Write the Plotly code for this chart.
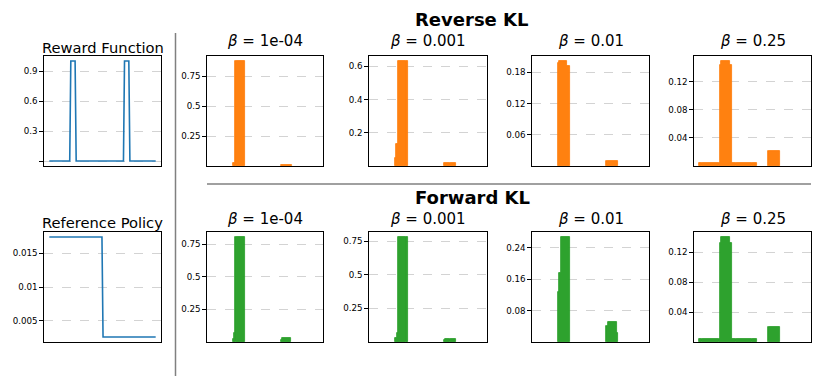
import plotly.graph_objects as go

W, H = 823, 388

# ---------------- data ----------------
states = list(range(100))

reward = [
    0, 0, 0, 0, 0, 0, 0, 0, 0, 0,
    0, 0, 0, 0, 0, 0, 0, 0, 0, 0,
    1, 1, 1, 1, 1, 0, 0, 0, 0, 0,
    0, 0, 0, 0, 0, 0, 0, 0, 0, 0,
    0, 0, 0, 0, 0, 0, 0, 0, 0, 0,
    0, 0, 0, 0, 0, 0, 0, 0, 0, 0,
    0, 0, 0, 0, 0, 0, 0, 0, 0, 0,
    1, 1, 1, 1, 1, 0, 0, 0, 0, 0,
    0, 0, 0, 0, 0, 0, 0, 0, 0, 0,
    0, 0, 0, 0, 0, 0, 0, 0, 0, 0,
]

ref_policy = [
    0.0174, 0.0174, 0.0174, 0.0174, 0.0174, 0.0174, 0.0174, 0.0174, 0.0174, 0.0174,
    0.0174, 0.0174, 0.0174, 0.0174, 0.0174, 0.0174, 0.0174, 0.0174, 0.0174, 0.0174,
    0.0174, 0.0174, 0.0174, 0.0174, 0.0174, 0.0174, 0.0174, 0.0174, 0.0174, 0.0174,
    0.0174, 0.0174, 0.0174, 0.0174, 0.0174, 0.0174, 0.0174, 0.0174, 0.0174, 0.0174,
    0.0174, 0.0174, 0.0174, 0.0174, 0.0174, 0.0174, 0.0174, 0.0174, 0.0174, 0.0174,
    0.0026, 0.0026, 0.0026, 0.0026, 0.0026, 0.0026, 0.0026, 0.0026, 0.0026, 0.0026,
    0.0026, 0.0026, 0.0026, 0.0026, 0.0026, 0.0026, 0.0026, 0.0026, 0.0026, 0.0026,
    0.0026, 0.0026, 0.0026, 0.0026, 0.0026, 0.0026, 0.0026, 0.0026, 0.0026, 0.0026,
    0.0026, 0.0026, 0.0026, 0.0026, 0.0026, 0.0026, 0.0026, 0.0026, 0.0026, 0.0026,
    0.0026, 0.0026, 0.0026, 0.0026, 0.0026, 0.0026, 0.0026, 0.0026, 0.0026, 0.0026,
]

betas = ["1e-04", "0.001", "0.01", "0.25"]

rkl_1e4 = [
    0, 0, 0, 0, 0, 0, 0, 0, 0, 0,
    0, 0, 0, 0, 0, 0, 0, 0, 0, 0,
    0.025, 0.025, 0.874, 0.874, 0.874, 0.874, 0.874, 0.874, 0.874, 0.874,
    0.874, 0, 0, 0, 0, 0, 0, 0, 0, 0,
    0, 0, 0, 0, 0, 0, 0, 0, 0, 0,
    0, 0, 0, 0, 0, 0, 0, 0, 0, 0,
    0, 0, 0, 0, 0, 0.012, 0.012, 0.012, 0.012, 0.012,
    0.012, 0.012, 0.012, 0.012, 0.012, 0.012, 0, 0, 0, 0,
    0, 0, 0, 0, 0, 0, 0, 0, 0, 0,
    0, 0, 0, 0, 0, 0, 0, 0, 0, 0,
]

rkl_001 = [
    0, 0, 0, 0, 0, 0, 0, 0, 0, 0,
    0, 0, 0, 0, 0, 0, 0, 0, 0, 0.05,
    0.13, 0.13, 0.63, 0.63, 0.63, 0.63, 0.63, 0.63, 0.63, 0.63,
    0.63, 0, 0, 0, 0, 0, 0, 0, 0, 0,
    0, 0, 0, 0, 0, 0, 0, 0, 0, 0,
    0, 0, 0, 0, 0, 0, 0, 0, 0, 0,
    0, 0, 0, 0, 0, 0.016, 0.016, 0.016, 0.016, 0.016,
    0.016, 0.016, 0.016, 0.016, 0.016, 0.016, 0, 0, 0, 0,
    0, 0, 0, 0, 0, 0, 0, 0, 0, 0,
    0, 0, 0, 0, 0, 0, 0, 0, 0, 0,
]

rkl_01 = [
    0, 0, 0, 0, 0, 0, 0, 0, 0, 0,
    0, 0, 0, 0, 0, 0, 0, 0, 0, 0.197,
    0.201, 0.201, 0.201, 0.201, 0.201, 0.201, 0.201, 0.201, 0.191, 0.191,
    0.191, 0, 0, 0, 0, 0, 0, 0, 0, 0,
    0, 0, 0, 0, 0, 0, 0, 0, 0, 0,
    0, 0, 0, 0, 0, 0, 0, 0, 0, 0,
    0, 0, 0, 0, 0, 0.0097, 0.0097, 0.0097, 0.0097, 0.0097,
    0.0097, 0.0097, 0.0097, 0.0097, 0.0097, 0.0097, 0, 0, 0, 0,
    0, 0, 0, 0, 0, 0, 0, 0, 0, 0,
    0, 0, 0, 0, 0, 0, 0, 0, 0, 0,
]

rkl_25 = [
    0.004, 0.004, 0.004, 0.004, 0.004, 0.004, 0.004, 0.004, 0.004, 0.004,
    0.004, 0.004, 0.004, 0.004, 0.004, 0.004, 0.004, 0.004, 0.004, 0.143,
    0.149, 0.149, 0.149, 0.149, 0.149, 0.149, 0.149, 0.149, 0.149, 0.143,
    0.143, 0.004, 0.004, 0.004, 0.004, 0.004, 0.004, 0.004, 0.004, 0.004,
    0.004, 0.004, 0.004, 0.004, 0.004, 0.004, 0.004, 0.004, 0.004, 0.004,
    0.004, 0.004, 0.004, 0.004, 0, 0, 0, 0, 0, 0,
    0, 0, 0, 0, 0, 0.021, 0.022, 0.022, 0.022, 0.022,
    0.022, 0.022, 0.022, 0.022, 0.022, 0.021, 0, 0, 0, 0,
    0, 0, 0, 0, 0, 0, 0, 0, 0, 0,
    0, 0, 0, 0, 0, 0, 0, 0, 0, 0,
]

fkl_1e4 = [
    0, 0, 0, 0, 0, 0, 0, 0, 0, 0,
    0, 0, 0, 0, 0, 0, 0, 0, 0, 0,
    0.02, 0.067, 0.804, 0.804, 0.804, 0.804, 0.804, 0.804, 0.804, 0.804,
    0.804, 0, 0, 0, 0, 0, 0, 0, 0, 0,
    0, 0, 0, 0, 0, 0, 0, 0, 0, 0,
    0, 0, 0, 0, 0, 0, 0, 0, 0, 0,
    0, 0, 0, 0, 0, 0.015, 0.033, 0.033, 0.033, 0.033,
    0.033, 0.033, 0.033, 0.033, 0.033, 0, 0, 0, 0, 0,
    0, 0, 0, 0, 0, 0, 0, 0, 0, 0,
    0, 0, 0, 0, 0, 0, 0, 0, 0, 0,
]

fkl_001 = [
    0, 0, 0, 0, 0, 0, 0, 0, 0, 0,
    0, 0, 0, 0, 0, 0, 0, 0, 0, 0.027,
    0.027, 0.069, 0.778, 0.778, 0.778, 0.778, 0.778, 0.778, 0.778, 0.778,
    0.778, 0, 0, 0, 0, 0, 0, 0, 0, 0,
    0, 0, 0, 0, 0, 0, 0, 0, 0, 0,
    0, 0, 0, 0, 0, 0, 0, 0, 0, 0,
    0, 0, 0, 0, 0, 0.015, 0.026, 0.026, 0.026, 0.026,
    0.026, 0.026, 0.026, 0.026, 0.026, 0.026, 0, 0, 0, 0,
    0, 0, 0, 0, 0, 0, 0, 0, 0, 0,
    0, 0, 0, 0, 0, 0, 0, 0, 0, 0,
]

fkl_01 = [
    0, 0, 0, 0, 0, 0, 0, 0, 0, 0,
    0, 0, 0, 0, 0, 0, 0, 0, 0, 0.127,
    0.175, 0.175, 0.267, 0.267, 0.267, 0.267, 0.267, 0.267, 0.267, 0.267,
    0.267, 0, 0, 0, 0, 0, 0, 0, 0, 0,
    0, 0, 0, 0, 0, 0, 0, 0, 0, 0,
    0, 0, 0, 0, 0, 0, 0, 0, 0, 0,
    0, 0, 0, 0, 0, 0.042, 0.05, 0.05, 0.05, 0.05,
    0.05, 0.05, 0.05, 0.05, 0.05, 0.024, 0, 0, 0, 0,
    0, 0, 0, 0, 0, 0, 0, 0, 0, 0,
    0, 0, 0, 0, 0, 0, 0, 0, 0, 0,
]

fkl_25 = [
    0.004, 0.004, 0.004, 0.004, 0.004, 0.004, 0.004, 0.004, 0.004, 0.004,
    0.004, 0.004, 0.004, 0.004, 0.004, 0.004, 0.004, 0.004, 0.004, 0.132,
    0.14, 0.14, 0.14, 0.14, 0.14, 0.14, 0.14, 0.14, 0.14, 0.132,
    0.132, 0.004, 0.004, 0.004, 0.004, 0.004, 0.004, 0.004, 0.004, 0.004,
    0.004, 0.004, 0.004, 0.004, 0.004, 0.004, 0.004, 0.004, 0.004, 0.004,
    0.004, 0.004, 0.004, 0.004, 0, 0, 0, 0, 0, 0,
    0, 0, 0, 0, 0, 0.02, 0.02, 0.02, 0.02, 0.02,
    0.02, 0.02, 0.02, 0.02, 0.02, 0.02, 0, 0, 0, 0,
    0, 0, 0, 0, 0, 0, 0, 0, 0, 0,
    0, 0, 0, 0, 0, 0, 0, 0, 0, 0,
]

rkl_series = [rkl_1e4, rkl_001, rkl_01, rkl_25]
fkl_series = [fkl_1e4, fkl_001, fkl_01, fkl_25]

reward_ticks = [0, 0.3, 0.6, 0.9]
reward_ticktext = ["", "0.3", "0.6", "0.9"]
ref_ticks = [0.005, 0.01, 0.015]
ref_ticktext = ["0.005", "0.01", "0.015"]
rkl_ticks = [[0.25, 0.5, 0.75], [0.2, 0.4, 0.6], [0.06, 0.12, 0.18], [0.04, 0.08, 0.12]]
fkl_ticks = [[0.25, 0.5, 0.75], [0.25, 0.5, 0.75], [0.08, 0.16, 0.24], [0.04, 0.08, 0.12]]

# ---------------- layout helpers ----------------
FONT = "DejaVu Sans"
BLUE = "#1f77b4"
ORANGE = "#ff7f0e"
GREEN = "#2ca02c"


def xdom(x0, x1):
    return [x0 / W, x1 / W]


def ydom(top, bottom):
    return [1 - bottom / H, 1 - top / H]


def xaxis_style(domain, rng):
    return dict(domain=domain, range=rng, showline=True, mirror=True,
                linecolor="black", linewidth=1.3, showticklabels=False,
                ticks="", showgrid=False, zeroline=False, fixedrange=True)


def yaxis_style(domain, rng, tickvals, ticktext):
    return dict(domain=domain, range=rng, showline=True, mirror=True,
                linecolor="black", linewidth=1.3, ticks="outside", ticklen=3.5,
                tickwidth=0.8, tickcolor="black", tickvals=tickvals,
                ticktext=ticktext, tickfont=dict(family=FONT, size=8.7, color="black"),
                showgrid=True, gridcolor="#d3d3d3", griddash="dash", gridwidth=0.7,
                zeroline=False, fixedrange=True)


fig = go.Figure()
layout = {}

# panel boxes in pixels (left, right, top, bottom)
left_x = (44, 161)
col_x = [(207, 323), (369, 487), (532, 649), (694, 811)]
row_top = (56, 166)
row_bot = (232, 342)

line_rng = [-0.05 * 99, 99 * 1.05]
bar_rng = [-5.5, 104.5]

ax = 0


def add_axis(xd, yd, xr, yr, tv, tt):
    global ax
    ax += 1
    sfx = "" if ax == 1 else str(ax)
    layout["xaxis" + sfx] = xaxis_style(xdom(*xd), xr)
    layout["yaxis" + sfx] = yaxis_style(ydom(*yd), yr, tv, tt)
    layout["xaxis" + sfx]["anchor"] = "y" + sfx
    layout["yaxis" + sfx]["anchor"] = "x" + sfx
    return "x" + sfx, "y" + sfx


# Reward function
xa, ya = add_axis(left_x, row_top, line_rng, [-0.05, 1.05], reward_ticks, reward_ticktext)
fig.add_trace(go.Scatter(x=states, y=reward, mode="lines", line=dict(color=BLUE, width=1.6),
                         xaxis=xa, yaxis=ya, showlegend=False))

# Reference policy
rmin, rmax = min(ref_policy), max(ref_policy)
span = rmax - rmin
xa, ya = add_axis(left_x, row_bot, line_rng, [rmin - 0.05 * span, rmax + 0.05 * span],
                  ref_ticks, ref_ticktext)
fig.add_trace(go.Scatter(x=states, y=ref_policy, mode="lines", line=dict(color=BLUE, width=1.6),
                         xaxis=xa, yaxis=ya, showlegend=False))

annotations = []


def title(text, xc, yc, size=14.7, bold=False):
    annotations.append(dict(text=("<b>%s</b>" % text) if bold else text,
                            x=xc / W, y=1 - yc / H, xref="paper", yref="paper",
                            xanchor="center", yanchor="middle", showarrow=False,
                            font=dict(family=FONT, size=size, color="black")))


title("Reward Function", (left_x[0] + left_x[1]) / 2, 47)
title("Reference Policy", (left_x[0] + left_x[1]) / 2, 223)

for series, ticks, rows, color, ty in [(rkl_series, rkl_ticks, row_top, ORANGE, 41),
                                       (fkl_series, fkl_ticks, row_bot, GREEN, 219)]:
    for i, vals in enumerate(series):
        top = max(vals) * 1.05
        xa, ya = add_axis(col_x[i], rows, bar_rng, [0, top], ticks[i], [str(t) for t in ticks[i]])
        yv = [v if v > 0 else None for v in vals]
        fig.add_trace(go.Bar(x=states, y=yv, width=1, marker=dict(color=color,
                             line=dict(color=color, width=0.8)),
                             xaxis=xa, yaxis=ya, showlegend=False))
        title("<i>β</i> = " + betas[i], (col_x[i][0] + col_x[i][1]) / 2, ty, size=15)

title("Reverse KL", 472, 19, size=18, bold=True)
title("Forward KL", 472, 197, size=18, bold=True)

shapes = [
    dict(type="line", xref="paper", yref="paper", x0=175.5 / W, x1=175.5 / W,
         y0=1 - 33 / H, y1=1 - 376 / H, line=dict(color="#808080", width=1.5)),
    dict(type="line", xref="paper", yref="paper", x0=207 / W, x1=811 / W,
         y0=1 - 184 / H, y1=1 - 184 / H, line=dict(color="#808080", width=1.5)),
]

fig.update_layout(width=W, height=H, autosize=False, margin=dict(l=0, r=0, t=0, b=0),
                  paper_bgcolor="white", plot_bgcolor="white", bargap=0,
                  annotations=annotations, shapes=shapes, **layout)

fig.write_html("out.html", config={"displayModeBar": False},
               post_script="document.body.style.margin='0';document.body.style.overflow='hidden';")
